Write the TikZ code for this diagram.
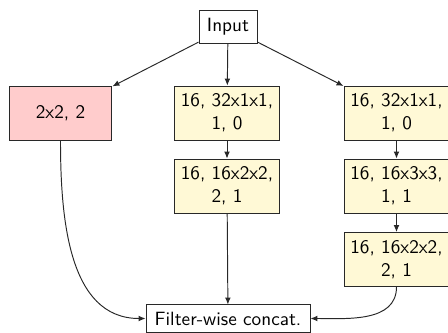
\documentclass[tikz,border=0pt]{standalone}
\usetikzlibrary{arrows.meta}
\definecolor{poolfill}{RGB}{255,204,204}
\definecolor{convfill}{RGB}{255,249,214}
\definecolor{edgegray}{RGB}{40,40,40}
\begin{document}
\begin{tikzpicture}[x=0.5208pt,y=-0.5208pt,
  font=\sffamily,
  box/.style={draw=edgegray,line width=0.5pt,align=center,inner sep=0pt},
  layer/.style={box,fill=convfill,minimum width=54.7pt,minimum height=28.1pt},
  pool/.style={box,fill=poolfill,minimum width=53.6pt,minimum height=28.1pt},
  flow/.style={draw=edgegray,line width=0.5pt,-{Latex[length=3.6pt,width=3pt]}}]
  \useasboundingbox (0,0) rectangle (448,333);

  % input and output
  \node[box,minimum width=30.2pt,minimum height=16.7pt] (in) at (228,27) {Input};
  \node[box,minimum width=85.4pt,minimum height=14.1pt] (cat) at (228,318.5) {Filter-wise concat.};

  % pooling branch
  \node[pool] (p) at (60.5,113) {2x2, 2};

  % middle branch
  \node[layer] (m1) at (227,113) {16, 32x1x1,\\1, 0};
  \node[layer] (m2) at (227,186) {16, 16x2x2,\\2, 1};

  % right branch
  \node[layer] (r1) at (396.5,113) {16, 32x1x1,\\1, 0};
  \node[layer] (r2) at (396.5,186) {16, 16x3x3,\\1, 1};
  \node[layer] (r3) at (396.5,259.5) {16, 16x2x2,\\2, 1};

  % connectors
  \draw[flow] (in) -- (p);
  \draw[flow] (in) -- (m1);
  \draw[flow] (in) -- (r1);
  \draw[flow] (m1) -- (m2);
  \draw[flow] (r1) -- (r2);
  \draw[flow] (r2) -- (r3);
  \draw[flow] (m2) -- (cat);
  \draw[flow] (p.south) to[out=-90,in=180] (cat.west);
  \draw[flow] (r3.south) to[out=-90,in=0] (cat.east);
\end{tikzpicture}
\end{document}
